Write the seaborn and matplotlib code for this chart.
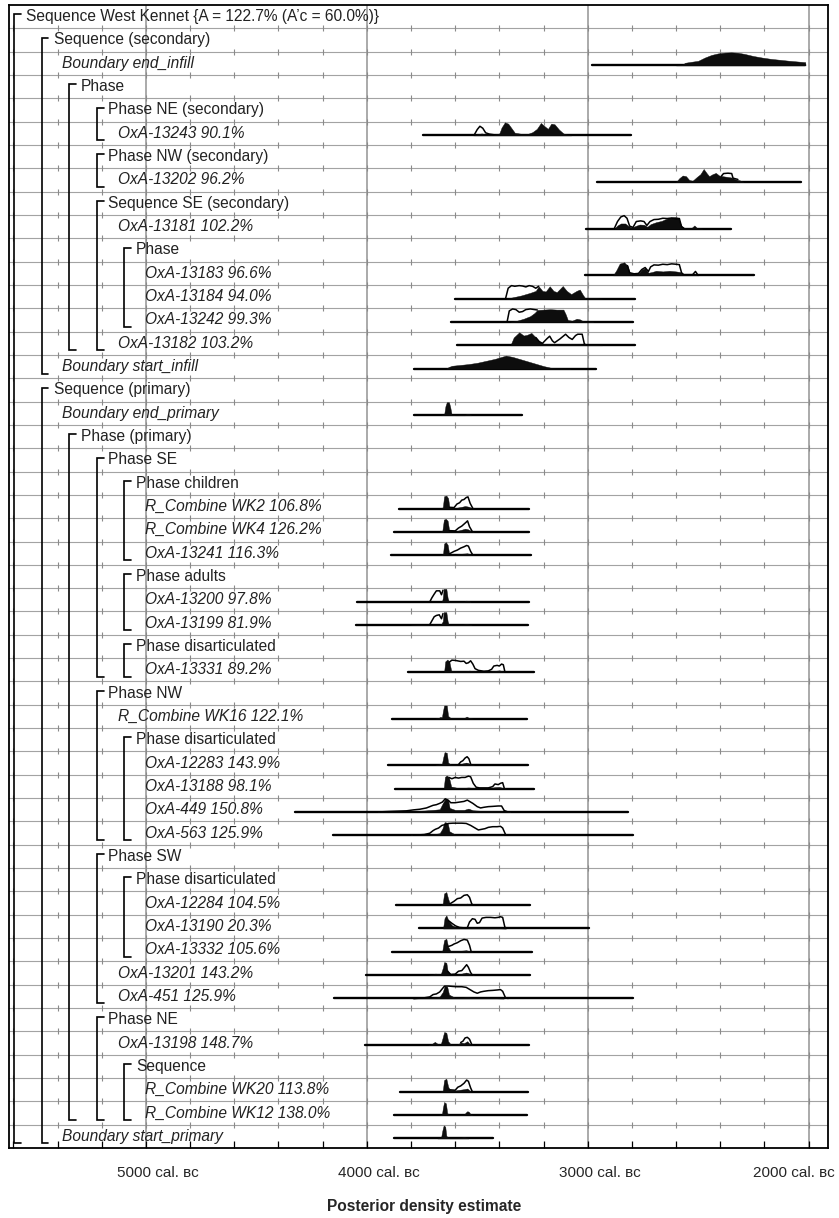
#%% West Kennet multiplot
import numpy as np
import matplotlib
matplotlib.use('Agg')
import matplotlib.pyplot as plt
import matplotlib.transforms as mtransforms
import seaborn as sns

# rows top to bottom
ROW_NAMES = [
    "Sequence West Kennet {A = 122.7% (A’c = 60.0%)}",
    "Sequence (secondary)",
    "Boundary end_infill",
    "Phase",
    "Phase NE (secondary)",
    "OxA-13243",
    "Phase NW (secondary)",
    "OxA-13202",
    "Sequence SE (secondary)",
    "OxA-13181",
    "Phase",
    "OxA-13183",
    "OxA-13184",
    "OxA-13242",
    "OxA-13182",
    "Boundary start_infill",
    "Sequence (primary)",
    "Boundary end_primary",
    "Phase (primary)",
    "Phase SE",
    "Phase children",
    "R_Combine WK2",
    "R_Combine WK4",
    "OxA-13241",
    "Phase adults",
    "OxA-13200",
    "OxA-13199",
    "Phase disarticulated",
    "OxA-13331",
    "Phase NW",
    "R_Combine WK16",
    "Phase disarticulated",
    "OxA-12283",
    "OxA-13188",
    "OxA-449",
    "OxA-563",
    "Phase SW",
    "Phase disarticulated",
    "OxA-12284",
    "OxA-13190",
    "OxA-13332",
    "OxA-13201",
    "OxA-451",
    "Phase NE",
    "OxA-13198",
    "Sequence",
    "R_Combine WK20",
    "R_Combine WK12",
    "Boundary start_primary",
]
# nesting level of each row (group = its bracket depth, item = container depth + 1)
ROW_LEVEL = [0, 1, 2, 2, 3, 4, 3, 4, 3, 4,
             4, 5, 5, 5, 4, 2, 1, 2, 2, 3,
             4, 5, 5, 5, 4, 5, 5, 4, 5, 3,
             4, 4, 5, 5, 5, 5, 3, 4, 5, 5,
             5, 4, 4, 3, 4, 4, 5, 5, 2]

AGREEMENT = {
    "OxA-13243": "90.1%", "OxA-13202": "96.2%", "OxA-13181": "102.2%",
    "OxA-13183": "96.6%", "OxA-13184": "94.0%", "OxA-13242": "99.3%",
    "OxA-13182": "103.2%", "R_Combine WK2": "106.8%", "R_Combine WK4": "126.2%",
    "OxA-13241": "116.3%", "OxA-13200": "97.8%", "OxA-13199": "81.9%",
    "OxA-13331": "89.2%", "R_Combine WK16": "122.1%", "OxA-12283": "143.9%",
    "OxA-13188": "98.1%", "OxA-449": "150.8%", "OxA-563": "125.9%",
    "OxA-12284": "104.5%", "OxA-13190": "20.3%", "OxA-13332": "105.6%",
    "OxA-13201": "143.2%", "OxA-451": "125.9%", "OxA-13198": "148.7%",
    "R_Combine WK20": "113.8%", "R_Combine WK12": "138.0%",
}

# plotted range of each item (cal BC, from -> to)
RANGE = {
    "Boundary end_infill": (2982, 2014),
    "OxA-13243": (3745, 2805),
    "OxA-13202": (2959, 2032),
    "OxA-13181": (3009, 2353),
    "OxA-13183": (3013, 2245),
    "OxA-13184": (3602, 2787),
    "OxA-13242": (3620, 2797),
    "OxA-13182": (3593, 2787),
    "Boundary start_infill": (3787, 2964),
    "Boundary end_primary": (3787, 3299),
    "R_Combine WK2": (3855, 3267),
    "R_Combine WK4": (3878, 3267),
    "OxA-13241": (3891, 3258),
    "OxA-13200": (4045, 3267),
    "OxA-13199": (4050, 3272),
    "OxA-13331": (3814, 3244),
    "R_Combine WK16": (3887, 3276),
    "OxA-12283": (3905, 3271),
    "OxA-13188": (3873, 3244),
    "OxA-449": (4326, 2819),
    "OxA-563": (4154, 2796),
    "OxA-12284": (3869, 3262),
    "OxA-13190": (3765, 2995),
    "OxA-13332": (3887, 3253),
    "OxA-13201": (4005, 3262),
    "OxA-451": (4150, 2796),
    "OxA-13198": (4009, 3267),
    "R_Combine WK20": (3851, 3271),
    "R_Combine WK12": (3878, 3276),
    "Boundary start_primary": (3878, 3430),
}

# posterior (filled) densities: (cal BC, relative height)
POSTERIOR = {
    "Boundary end_infill": [(2600, 0), (2570, 0.05), (2560, 0.2), (2530, 0.28), (2500, 0.35), (2470, 0.6), (2440, 0.8),
                            (2410, 0.92), (2380, 0.98), (2350, 1.0), (2320, 0.97), (2290, 0.88), (2250, 0.72), (2210, 0.6),
                            (2170, 0.5), (2130, 0.43), (2090, 0.36), (2050, 0.3), (2015, 0.25), (2014, 0)],
    "OxA-13243": [(3515, 0), (3500, 0.1), (3480, 0.15), (3460, 0.08), (3430, 0.03), (3400, 0.15), (3390, 0.6), (3375, 1.0),
                  (3360, 0.9), (3345, 0.55), (3330, 0.2), (3300, 0.12), (3270, 0.12), (3250, 0.25), (3230, 0.5),
                  (3212, 0.95), (3195, 0.7), (3180, 0.5), (3165, 0.9), (3150, 0.85), (3130, 0.45), (3110, 0.15),
                  (3090, 0.05), (3075, 0)],
    "OxA-13202": [(2600, 0), (2585, 0.3), (2570, 0.5), (2555, 0.45), (2540, 0.15), (2525, 0.1), (2505, 0.4), (2490, 0.6),
                  (2475, 1.0), (2460, 0.65), (2450, 0.45), (2435, 0.6), (2420, 0.7), (2405, 0.5), (2390, 0.45),
                  (2370, 0.4), (2350, 0.35), (2330, 0.2), (2310, 0.12), (2295, 0)],
    "OxA-13181": [(2880, 0), (2865, 0.25), (2850, 0.4), (2830, 0.4), (2815, 0.2), (2800, 0.08), (2785, 0.2), (2765, 0.32),
                  (2745, 0.3), (2730, 0.15), (2715, 0.35), (2690, 0.5), (2665, 0.6), (2645, 0.75), (2625, 0.85),
                  (2605, 0.9), (2590, 0.85), (2578, 0.3), (2568, 0.05), (2530, 0.05), (2517, 0.25), (2505, 0.05), (2480, 0)],
    "OxA-13183": [(2885, 0), (2870, 0.4), (2855, 0.9), (2835, 1.0), (2820, 0.75), (2810, 0.2), (2790, 0.12), (2770, 0.15),
                  (2755, 0.45), (2740, 0.55), (2725, 0.2), (2710, 0.25), (2690, 0.35), (2660, 0.3), (2630, 0.35),
                  (2600, 0.3), (2580, 0.25), (2570, 0.05), (2520, 0.02), (2512, 0.1), (2500, 0)],
    "OxA-13184": [(3370, 0), (3340, 0.1), (3300, 0.25), (3260, 0.45), (3235, 0.6), (3222, 0.95), (3205, 0.6), (3190, 0.55),
                  (3172, 0.95), (3155, 0.6), (3140, 0.5), (3113, 0.97), (3095, 0.6), (3075, 0.35), (3050, 0.6),
                  (3036, 0.7), (3022, 0.3), (3012, 0.05), (2960, 0.04), (2935, 0)],
    "OxA-13242": [(3350, 0), (3320, 0.1), (3290, 0.25), (3260, 0.45), (3240, 0.7), (3228, 0.92), (3200, 0.95), (3170, 0.98),
                  (3140, 0.95), (3110, 0.95), (3100, 0.6), (3090, 0.15), (3070, 0.1), (3050, 0.25), (3035, 0.2),
                  (3020, 0.05), (2980, 0.03), (2975, 0)],
    "OxA-13182": [(3350, 0), (3335, 0.6), (3310, 1.0), (3290, 0.75), (3275, 0.8), (3255, 0.95), (3235, 0.6), (3220, 0.3),
                  (3200, 0.12), (3170, 0.12), (3130, 0.1), (3090, 0.12), (3050, 0.1), (3015, 0.05), (2970, 0.04), (2935, 0)],
    "Boundary start_infill": [(3640, 0), (3630, 0.12), (3615, 0.22), (3580, 0.28), (3540, 0.35), (3500, 0.45), (3460, 0.6),
                              (3420, 0.75), (3390, 0.9), (3370, 1.0), (3340, 0.9), (3300, 0.7), (3260, 0.5), (3230, 0.35),
                              (3200, 0.2), (3170, 0.08), (3140, 0.03), (3080, 0)],
    "Boundary end_primary": [(3665, 0), (3650, 0.05), (3644, 0.7), (3638, 1.0), (3628, 1.0), (3622, 0.6), (3616, 0.05),
                             (3600, 0), (3556, 0), (3548, 0.12), (3538, 0.12), (3528, 0)],
    "R_Combine WK2": [(3670, 0), (3656, 0.1), (3650, 0.95), (3640, 1.0), (3632, 0.8), (3626, 0.1), (3600, 0.05),
                      (3575, 0.12), (3555, 0.2), (3540, 0.15), (3525, 0.05), (3515, 0)],
    "R_Combine WK4": [(3670, 0), (3658, 0.1), (3651, 0.95), (3642, 1.0), (3634, 0.85), (3627, 0.1), (3600, 0.05),
                      (3575, 0.15), (3555, 0.25), (3542, 0.2), (3525, 0.05), (3515, 0)],
    "OxA-13241": [(3670, 0), (3655, 0.1), (3650, 0.9), (3642, 1.0), (3634, 0.8), (3627, 0.1), (3600, 0.05), (3570, 0.12),
                  (3545, 0.15), (3525, 0.05), (3515, 0)],
    "OxA-13200": [(3660, 0), (3656, 0.3), (3652, 1.0), (3640, 1.0), (3634, 0.3), (3628, 0), (3560, 0), (3550, 0.1),
                  (3538, 0.08), (3530, 0)],
    "OxA-13199": [(3800, 0), (3760, 0.04), (3720, 0.05), (3700, 0.06), (3665, 0.05), (3656, 0.3), (3652, 1.0), (3640, 1.0),
                  (3634, 0.3), (3628, 0), (3570, 0.03), (3550, 0.1), (3535, 0.05), (3525, 0)],
    "OxA-13331": [(3650, 0), (3645, 0.8), (3635, 0.95), (3626, 0.75), (3618, 0.1), (3590, 0.05), (3560, 0.05), (3535, 0.1),
                  (3510, 0.05), (3440, 0.04), (3420, 0.08), (3400, 0.12), (3385, 0.05), (3378, 0)],
    "R_Combine WK16": [(3690, 0), (3675, 0.05), (3668, 0.12), (3660, 0.1), (3655, 0.6), (3650, 1.0), (3638, 1.0),
                       (3632, 0.2), (3620, 0.03), (3560, 0.03), (3548, 0.15), (3538, 0.05), (3520, 0)],
    "OxA-12283": [(3690, 0), (3672, 0.08), (3660, 0.1), (3654, 0.6), (3648, 1.0), (3638, 0.95), (3632, 0.2), (3620, 0.05),
                  (3590, 0.04), (3570, 0.12), (3550, 0.2), (3540, 0.15), (3525, 0.02), (3515, 0)],
    "OxA-13188": [(3652, 0), (3646, 0.9), (3638, 1.0), (3628, 0.85), (3618, 0.15), (3590, 0.05), (3560, 0.05), (3540, 0.08),
                  (3510, 0.04), (3450, 0.03), (3420, 0.1), (3400, 0.12), (3380, 0.03), (3370, 0)],
    "OxA-449": [(3950, 0), (3900, 0.03), (3800, 0.05), (3740, 0.1), (3700, 0.15), (3670, 0.2), (3655, 0.7), (3645, 1.0),
                (3632, 0.9), (3625, 0.3), (3600, 0.15), (3560, 0.15), (3540, 0.25), (3520, 0.12), (3480, 0.08),
                (3440, 0.08), (3400, 0.06), (3370, 0.02), (3350, 0)],
    "OxA-563": [(3800, 0), (3760, 0.03), (3720, 0.06), (3690, 0.1), (3670, 0.15), (3658, 0.5), (3648, 1.0), (3634, 0.95),
                (3626, 0.3), (3600, 0.05), (3570, 0.05), (3545, 0.1), (3520, 0.05), (3450, 0.03), (3380, 0)],
    "OxA-12284": [(3665, 0), (3656, 0.15), (3650, 0.9), (3640, 1.0), (3632, 0.5), (3624, 0.1), (3600, 0.05), (3570, 0.08),
                  (3545, 0.12), (3530, 0.05), (3515, 0)],
    "OxA-13190": [(3655, 0), (3648, 0.8), (3640, 1.0), (3630, 0.6), (3615, 0.25), (3595, 0.1), (3570, 0.05), (3530, 0.03),
                  (3480, 0.03), (3400, 0.02), (3370, 0)],
    "OxA-13332": [(3668, 0), (3658, 0.1), (3650, 0.9), (3640, 1.0), (3632, 0.4), (3622, 0.08), (3600, 0.05), (3575, 0.08),
                  (3550, 0.12), (3535, 0.05), (3520, 0)],
    "OxA-13201": [(3720, 0), (3700, 0.05), (3690, 0.12), (3680, 0.1), (3665, 0.08), (3655, 0.6), (3650, 1.0), (3640, 0.95),
                  (3634, 0.3), (3620, 0.05), (3590, 0.05), (3570, 0.12), (3550, 0.2), (3540, 0.15), (3525, 0.03), (3515, 0)],
    "OxA-451": [(3790, 0), (3740, 0.03), (3710, 0.05), (3690, 0.1), (3670, 0.15), (3656, 0.5), (3648, 0.95), (3636, 0.9),
                (3628, 0.3), (3600, 0.05), (3570, 0.05), (3545, 0.12), (3520, 0.05), (3450, 0.03), (3380, 0)],
    "OxA-13198": [(3720, 0), (3705, 0.1), (3692, 0.25), (3680, 0.1), (3665, 0.08), (3656, 0.6), (3650, 1.0), (3640, 0.95),
                  (3632, 0.3), (3620, 0.05), (3590, 0.05), (3575, 0.2), (3560, 0.15), (3545, 0.3), (3535, 0.1), (3520, 0)],
    "R_Combine WK20": [(3668, 0), (3656, 0.1), (3650, 0.9), (3640, 1.0), (3632, 0.4), (3624, 0.15), (3600, 0.1),
                       (3580, 0.15), (3560, 0.2), (3545, 0.25), (3535, 0.1), (3525, 0)],
    "R_Combine WK12": [(3672, 0), (3660, 0.05), (3655, 0.6), (3650, 1.0), (3642, 0.9), (3636, 0.15), (3625, 0.02),
                       (3560, 0.02), (3552, 0.2), (3545, 0.3), (3538, 0.25), (3530, 0.05), (3520, 0)],
    "Boundary start_primary": [(3680, 0), (3664, 0.05), (3658, 0.6), (3652, 1.0), (3645, 0.9), (3640, 0.2), (3630, 0.02),
                               (3580, 0.02), (3568, 0.08), (3558, 0.1), (3548, 0.05), (3540, 0)],
}

# prior (unmodelled) outlines where they show above the posterior
PRIOR = {
    "OxA-13243": [(3515, 0), (3500, 0.45), (3488, 0.7), (3475, 0.55), (3462, 0.2), (3445, 0.1), (3425, 0.05)],
    "OxA-13202": [(2395, 0.45), (2385, 0.65), (2365, 0.68), (2348, 0.65), (2342, 0.3), (2320, 0.2)],
    "OxA-13181": [(2880, 0), (2865, 0.55), (2850, 0.9), (2835, 1.0), (2822, 0.8), (2810, 0.2), (2795, 0.1), (2780, 0.55),
                  (2760, 0.6), (2745, 0.55), (2732, 0.25), (2718, 0.55), (2700, 0.7), (2680, 0.72), (2660, 0.8),
                  (2640, 0.78), (2620, 0.82), (2600, 0.75), (2585, 0.78), (2575, 0.15), (2565, 0.05)],
    "OxA-13183": [(2820, 0.75), (2810, 0.2), (2790, 0.12), (2770, 0.15), (2755, 0.45), (2740, 0.6), (2725, 0.3),
                  (2715, 0.65), (2700, 0.8), (2680, 0.78), (2660, 0.85), (2640, 0.82), (2620, 0.88), (2600, 0.85),
                  (2585, 0.82), (2575, 0.2), (2565, 0.05), (2525, 0.05), (2512, 0.3), (2500, 0)],
    "OxA-13184": [(3372, 0), (3360, 0.8), (3345, 1.0), (3330, 0.95), (3310, 1.0), (3295, 0.97), (3280, 0.9), (3265, 1.0),
                  (3250, 0.95), (3235, 0.8), (3222, 0.95)],
    "OxA-13242": [(3365, 0), (3355, 0.85), (3340, 1.0), (3325, 0.95), (3310, 0.75), (3295, 0.8), (3280, 0.95), (3260, 1.0),
                  (3240, 0.95), (3228, 0.92)],
    "OxA-13182": [(3235, 0.6), (3220, 0.3), (3205, 0.15), (3185, 0.5), (3172, 0.7), (3160, 0.35), (3150, 0.2), (3125, 0.5),
                  (3100, 0.85), (3085, 0.6), (3070, 0.45), (3055, 0.75), (3045, 0.85), (3025, 0.85), (3015, 0.1),
                  (3005, 0.02)],
    "R_Combine WK2": [(3625, 0.1), (3605, 0.08), (3592, 0.35), (3580, 0.45), (3570, 0.65), (3560, 0.7), (3550, 0.85),
                      (3542, 0.9), (3532, 0.4), (3520, 0.02)],
    "R_Combine WK4": [(3627, 0.1), (3600, 0.08), (3585, 0.3), (3570, 0.45), (3560, 0.6), (3550, 0.75), (3544, 0.85),
                      (3535, 0.4), (3522, 0.02)],
    "OxA-13241": [(3627, 0.1), (3605, 0.3), (3590, 0.4), (3575, 0.55), (3560, 0.65), (3548, 0.75), (3540, 0.7), (3530, 0.3),
                  (3520, 0.02)],
    "OxA-13200": [(3715, 0), (3706, 0.3), (3695, 0.6), (3685, 0.85), (3670, 0.85), (3662, 0.55), (3655, 0.9)],
    "OxA-13199": [(3715, 0.05), (3705, 0.35), (3695, 0.65), (3685, 0.75), (3672, 0.8), (3662, 0.5), (3655, 0.9)],
    "OxA-13331": [(3626, 0.75), (3615, 0.9), (3600, 0.88), (3590, 0.85), (3575, 0.8), (3560, 0.82), (3550, 0.65),
                  (3540, 0.7), (3530, 0.85), (3520, 0.6), (3510, 0.25), (3495, 0.12), (3470, 0.05), (3450, 0.08),
                  (3435, 0.2), (3425, 0.45), (3410, 0.5), (3400, 0.45), (3390, 0.6), (3382, 0.55), (3375, 0.02)],
    "OxA-12283": [(3585, 0.05), (3575, 0.25), (3565, 0.35), (3555, 0.55), (3546, 0.65), (3538, 0.5), (3530, 0.1)],
    "OxA-13188": [(3628, 0.85), (3615, 0.75), (3600, 0.85), (3585, 0.8), (3570, 0.85), (3555, 0.85), (3540, 0.95),
                  (3530, 0.9), (3518, 0.4), (3505, 0.1), (3490, 0.05), (3450, 0.05), (3430, 0.15), (3420, 0.35),
                  (3405, 0.3), (3395, 0.4), (3385, 0.45), (3378, 0.05)],
    "OxA-449": [(3940, 0), (3900, 0.03), (3820, 0.08), (3790, 0.15), (3760, 0.2), (3730, 0.3), (3715, 0.4), (3700, 0.5),
                (3685, 0.55), (3670, 0.65), (3658, 0.75), (3645, 1.0), (3632, 0.9), (3620, 0.7), (3600, 0.7),
                (3580, 0.75), (3560, 0.8), (3545, 0.9), (3520, 0.65), (3500, 0.4), (3485, 0.3), (3470, 0.35),
                (3450, 0.4), (3430, 0.42), (3405, 0.45), (3390, 0.45), (3378, 0.1), (3365, 0.02)],
    "OxA-563": [(3790, 0), (3740, 0.05), (3715, 0.15), (3700, 0.35), (3690, 0.45), (3675, 0.55), (3660, 0.75),
                (3648, 0.8), (3630, 0.9), (3610, 0.92), (3590, 0.92), (3570, 0.92), (3550, 0.9), (3530, 0.75),
                (3510, 0.55), (3495, 0.4), (3480, 0.45), (3465, 0.5), (3450, 0.6), (3430, 0.65), (3410, 0.65),
                (3395, 0.68), (3385, 0.55), (3372, 0.05), (3360, 0)],
    "OxA-12284": [(3624, 0.1), (3605, 0.3), (3590, 0.5), (3575, 0.55), (3560, 0.75), (3545, 0.8), (3535, 0.6),
                  (3525, 0.1), (3518, 0)],
    "OxA-13190": [(3630, 0.6), (3615, 0.4), (3598, 0.2), (3580, 0.08), (3560, 0.05), (3545, 0.06), (3535, 0.5),
                  (3522, 0.75), (3510, 0.7), (3500, 0.4), (3490, 0.45), (3478, 0.8), (3460, 0.85), (3440, 0.85),
                  (3420, 0.82), (3405, 0.85), (3395, 0.9), (3385, 0.85), (3375, 0.1), (3365, 0.02)],
    "OxA-13332": [(3632, 0.4), (3615, 0.5), (3605, 0.6), (3590, 0.7), (3575, 0.85), (3560, 0.95), (3545, 0.9),
                  (3535, 0.5), (3528, 0.05)],
    "OxA-13201": [(3634, 0.3), (3620, 0.05), (3600, 0.08), (3585, 0.3), (3570, 0.35), (3560, 0.55), (3548, 0.8),
                  (3540, 0.6), (3530, 0.2), (3522, 0)],
    "OxA-451": [(3790, 0), (3740, 0.05), (3715, 0.12), (3700, 0.3), (3685, 0.35), (3670, 0.5), (3658, 0.75), (3648, 0.95),
                (3630, 0.95), (3610, 0.92), (3590, 0.9), (3570, 0.9), (3550, 0.85), (3535, 0.7), (3515, 0.5),
                (3500, 0.4), (3485, 0.5), (3470, 0.55), (3450, 0.6), (3430, 0.62), (3410, 0.65), (3395, 0.68),
                (3385, 0.55), (3372, 0.05), (3360, 0)],
    "OxA-13198": [(3575, 0.2), (3565, 0.3), (3555, 0.55), (3545, 0.6), (3535, 0.45), (3525, 0.05)],
    "R_Combine WK20": [(3624, 0.15), (3600, 0.12), (3588, 0.35), (3575, 0.45), (3560, 0.65), (3548, 0.9), (3540, 0.8),
                       (3530, 0.3), (3522, 0)],
}

MAJOR_YEARS = [5000, 4000, 3000, 2000]
MINOR_YEARS = list(range(5600, 1900, -200))
TICK_LABELS = ["5000 cal. ʙᴄ", "4000 cal. ʙᴄ", "3000 cal. ʙᴄ", "2000 cal. ʙᴄ"]

#%% figure
sns.set_theme(style='white')
plt.rcParams['font.family'] = ['Liberation Sans', 'DejaVu Sans']

W, H = 839, 1218
AX_L, AX_R, AX_T, AX_B = 9, 828, 5, 1148
fig = plt.figure(figsize=(W / 100, H / 100), dpi=100)
ax = fig.add_axes([AX_L / W, (H - AX_B) / H, (AX_R - AX_L) / W, (AX_B - AX_T) / H])

n_rows = len(ROW_NAMES)
ax.set_xlim(5620, 1912)
ax.set_ylim(n_rows - 0.5, -0.5)

GRID = '#a3a3a3'
for b in np.arange(0.5, n_rows - 0.5, 1):
    ax.axhline(b, color=GRID, lw=0.8, zorder=0)
for m in MAJOR_YEARS:
    ax.axvline(m, color='#939393', lw=1.1, zorder=0)
# little crosses on the grid
gx, gy = np.meshgrid(MINOR_YEARS, np.arange(0.5, n_rows - 0.5, 1))
ax.plot(gx.ravel(), gy.ravel(), ls='none', marker='|', ms=5, mew=0.8, color='#8a8a8a', zorder=0)


def frac(px):
    # pixel column -> axes fraction
    return (px - AX_L) / (AX_R - AX_L)


trans = mtransforms.blended_transform_factory(ax.transAxes, ax.transData)
BASE = 0.09    # baseline offset under row centre
PEAK = 0.56    # tallest density, in rows
stub = 7 / (AX_R - AX_L)

for r, (name, lev) in enumerate(zip(ROW_NAMES, ROW_LEVEL)):
    if name in RANGE:
        txt = name + (' ' + AGREEMENT[name] if name in AGREEMENT else '')
        ax.text(frac(7.5 + 27.5 * lev), r, txt, transform=trans, ha='left', va='center',
                fontsize=11.2, style='italic', color='#222222')
        base = r + BASE
        lo, hi = RANGE[name]
        sns.lineplot(x=[lo, hi], y=[base, base], ax=ax, color='black', lw=1.7, sort=False, estimator=None)
        post = np.array(POSTERIOR[name])
        ax.fill_between(post[:, 0], base, base - post[:, 1] * PEAK, color='#0d0d0d', lw=0.3,
                        edgecolor='#0d0d0d', zorder=3)
        if name in PRIOR:
            pri = np.array(PRIOR[name])
            sns.lineplot(x=pri[:, 0], y=base - pri[:, 1] * PEAK, ax=ax, color='black', lw=1.1,
                         sort=False, estimator=None, zorder=4)
    else:
        ax.text(frac(26 + 27.5 * lev), r, name, transform=trans, ha='left', va='center',
                fontsize=11.2, color='#222222')
        end = r
        while end + 1 < n_rows and ROW_LEVEL[end + 1] > lev:
            end += 1
        xb = frac(14 + 27.5 * lev)
        ax.plot([xb + stub, xb, xb, xb + stub], [r - 0.1, r - 0.1, end + 0.3, end + 0.3],
                transform=trans, color='black', lw=1.2, solid_joinstyle='miter')

ax.set_xlabel('')
ax.set_ylabel('')
ax.set_yticks([])
ax.set_xticks(MAJOR_YEARS, TICK_LABELS)
ax.set_xticks(MINOR_YEARS, minor=True)
ax.tick_params(axis='x', which='both', direction='in', length=5, width=0.9, color='black',
               pad=13, labelsize=11, bottom=True)
# labels sit a little right of their gridline; the last one is pulled in to stay on the page
for lab, dx in zip(ax.get_xticklabels(), [0.12, 0.12, 0.12, -0.15]):
    lab.set_transform(lab.get_transform() + mtransforms.ScaledTranslation(dx, 0, fig.dpi_scale_trans))
for s in ax.spines.values():
    s.set_visible(True)
    s.set_color('black')
    s.set_linewidth(1.3)

fig.text(424 / W, 1 - 1207 / H, 'Posterior density estimate', ha='center', va='center',
         fontsize=11.2, fontweight='bold')

fig.savefig('out.png', dpi=100)
